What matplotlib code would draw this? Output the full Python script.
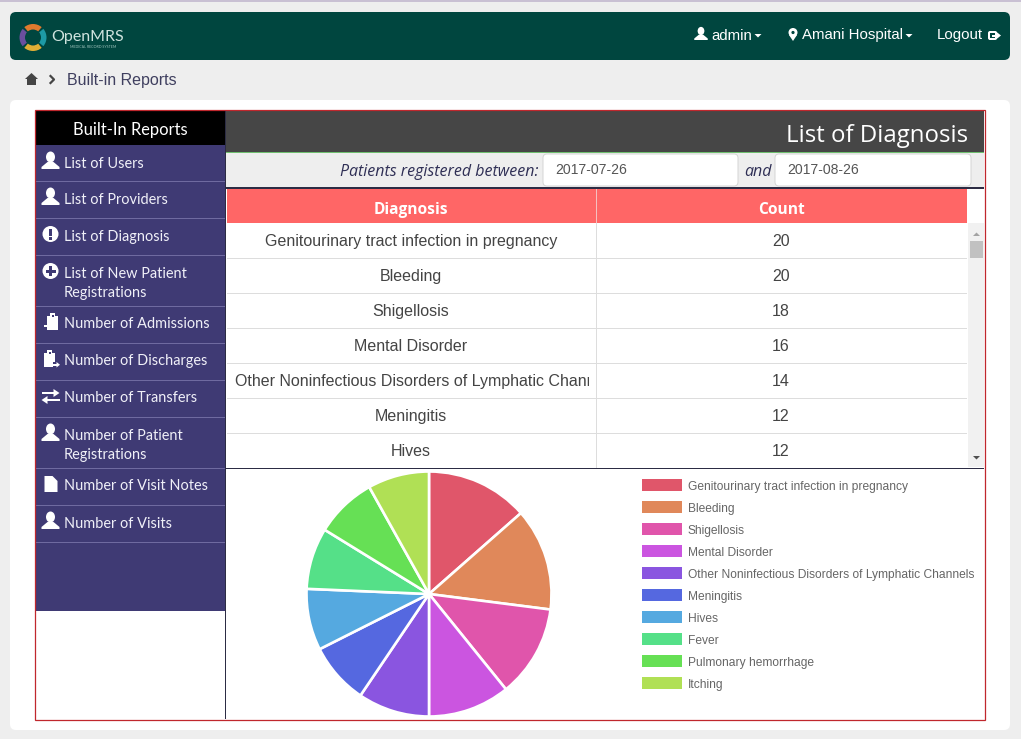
import matplotlib

matplotlib.use("Agg")
import matplotlib.pyplot as plt
from matplotlib.patches import Rectangle, FancyBboxPatch, Circle, Ellipse, Polygon, Wedge

W, H = 1021, 739

diagnoses = [
    "Genitourinary tract infection in pregnancy",
    "Bleeding",
    "Shigellosis",
    "Mental Disorder",
    "Other Noninfectious Disorders of Lymphatic Channels",
    "Meningitis",
    "Hives",
    "Fever",
    "Pulmonary hemorrhage",
    "Itching",
]
counts = [20, 20, 18, 16, 14, 12, 12, 12, 12, 12]
pie_colors = [
    "#e0566a", "#e0885a", "#e055ab", "#cb55e0", "#8a55e0",
    "#5568e0", "#55a9e0", "#55e088", "#66e055", "#b0e055",
]
visible_rows = 7

side_items = [
    ("List of Users", None, "user"),
    ("List of Providers", None, "user"),
    ("List of Diagnosis", None, "alert"),
    ("List of New Patient", "Registrations", "plus"),
    ("Number of Admissions", None, "admit"),
    ("Number of Discharges", None, "discharge"),
    ("Number of Transfers", None, "swap"),
    ("Number of Patient", "Registrations", "user"),
    ("Number of Visit Notes", None, "file"),
    ("Number of Visits", None, "user"),
]
side_tops = [146, 182, 219, 256, 307, 344, 381, 418, 469, 506]
side_seps = [181, 218, 255, 306, 343, 380, 417, 468, 505, 542]

PURPLE = "#3f3a74"
TEAL = "#00463f"
SANS = "Liberation Sans"
HEAD = "Open Sans"
SIDE = "Lato"

fig = plt.figure(figsize=(W / 100, H / 100), dpi=100, facecolor="#eeeeee")
ax = fig.add_axes([0, 0, 1, 1])
ax.set_xlim(0, W)
ax.set_ylim(H, 0)
ax.axis("off")


def px(size):
    return size * 0.72


def rect(x0, y0, x1, y1, color, z=1, **kw):
    p = Rectangle((x0, y0), x1 - x0, y1 - y0, facecolor=color, edgecolor="none", zorder=z, **kw)
    ax.add_patch(p)
    return p


def rounded(x0, y0, x1, y1, r, color, edge="none", z=1):
    p = FancyBboxPatch((x0 + r, y0 + r), x1 - x0 - 2 * r, y1 - y0 - 2 * r,
                       boxstyle=f"round,pad={r},rounding_size={r}",
                       facecolor=color, edgecolor=edge, linewidth=0.7, zorder=z)
    ax.add_patch(p)


def label(x, y, s, size, color, family=SANS, ha="left", z=6, **kw):
    # the web fonts sit a bit lower than matplotlib centres them
    dy = 2 if family == HEAD else 1
    return ax.text(x, y + dy, s, fontsize=px(size), color=color, family=family,
                   ha=ha, va="center", zorder=z, **kw)


def poly(pts, color, z=6):
    ax.add_patch(Polygon(pts, color=color, zorder=z, lw=0))


def user_icon(x, y, s=1.0, color="white"):
    ax.add_patch(Ellipse((x, y - 4 * s), 9 * s, 11 * s, color=color, zorder=6, lw=0))
    poly([(x - 3 * s, y + 1 * s), (x + 3 * s, y + 1 * s), (x + 9 * s, y + 6 * s),
          (x + 9 * s, y + 8 * s), (x - 9 * s, y + 8 * s), (x - 9 * s, y + 6 * s)], color)


def board(x, y):
    rect(x - 5.5, y - 6, x + 5.5, y + 8, "white", z=6)
    rect(x - 2.5, y - 9, x + 2.5, y - 4, "white", z=7)
    rect(x - 1, y - 7.5, x + 1, y - 5.5, PURPLE, z=8)


def side_icon(kind, x, y):
    if kind == "user":
        user_icon(x, y)
    elif kind in ("alert", "plus"):
        ax.add_patch(Circle((x, y), 8, color="white", zorder=6, lw=0))
        if kind == "alert":
            rect(x - 1.5, y - 5, x + 1.5, y + 1.5, PURPLE, z=7)
            rect(x - 1.5, y + 3, x + 1.5, y + 5.5, PURPLE, z=7)
        else:
            rect(x - 1.5, y - 5, x + 1.5, y + 5, PURPLE, z=7)
            rect(x - 5, y - 1.5, x + 5, y + 1.5, PURPLE, z=7)
    elif kind == "admit":
        board(x + 2, y)
        rect(x - 7, y + 3, x - 2, y + 4.5, "white", z=8)
        poly([(x - 3, y + 1), (x + 0.5, y + 3.75), (x - 3, y + 6.5)], "white", z=8)
    elif kind == "discharge":
        board(x - 1, y)
        rect(x + 2, y + 3, x + 7, y + 8, PURPLE, z=7)
        rect(x + 2, y + 5, x + 7, y + 6.5, "white", z=8)
        poly([(x + 6, y + 3), (x + 9.5, y + 5.75), (x + 6, y + 8.5)], "white", z=8)
    elif kind == "swap":
        rect(x - 9, y - 4, x + 4, y - 2, "white", z=6)
        poly([(x + 3, y - 7), (x + 9, y - 3), (x + 3, y + 1)], "white")
        rect(x - 4, y + 3, x + 9, y + 5, "white", z=6)
        poly([(x - 3, y), (x - 9, y + 4), (x - 3, y + 8)], "white")
    elif kind == "file":
        poly([(x - 6, y - 8), (x + 2, y - 8), (x + 7, y - 3), (x + 7, y + 8), (x - 6, y + 8)], "white")


def caret(x, y, color="white", size=4, up=False):
    d = -size if up else size
    poly([(x - size, y), (x + size, y), (x, y + d)], color)


# top strip, navbar, white panel
rect(0, 0, W, 1.5, "#c9c0d3", z=2)
rounded(10, 12, 1010, 60, 6, TEAL)
rounded(10, 100, 1010, 730, 6, "white")

# logo
for c, a0, a1 in [("#e07a2e", 50, 130), ("#1d9aa5", -40, 40), ("#e0ae35", 230, 310), ("#6a4f9e", 140, 220)]:
    ax.add_patch(Wedge((33, 37.5), 13.5, -a1, -a0, width=5.5, color=c, zorder=3, lw=0))
label(51, 36, "OpenMRS", 16, "#cfe3de", family=SIDE)
label(70, 46.5, "MEDICAL RECORD SYSTEM", 3.6, "#9fc4bd", family=SIDE)

# navbar right side
user_icon(701, 34, 0.75)
label(711, 34.5, "admin", 15, "white")
caret(758, 34, size=3.5)
ax.add_patch(Circle((793, 32.5), 4.5, color="white", zorder=6, lw=0))
ax.add_patch(Circle((793, 32.5), 1.6, color=TEAL, zorder=7, lw=0))
poly([(789, 35), (797, 35), (793, 41)], "white")
label(802, 34.5, "Amani Hospital", 15, "white")
caret(909, 34, size=3.5)
label(937, 34.5, "Logout", 15, "white")
rounded(988, 31, 997, 40, 2, "white", z=6)
rect(990, 33, 995, 38, TEAL, z=7)
rect(992, 34.5, 997, 36.5, "white", z=8)
poly([(996, 31.5), (1001, 35.5), (996, 39.5)], "white", z=8)

# breadcrumb
poly([(25, 79), (31.5, 73), (38, 79), (36, 79), (36, 85), (27, 85), (27, 79)], "#454545", z=3)
ax.plot([50.5, 54, 50.5], [76, 79.5, 83], color="#454545", lw=1.6, zorder=3)
label(67, 79, "Built-in Reports", 16, "#3f3f5f")

# sidebar
rect(35.5, 111, 225, 145, "black", z=2)
rect(35.5, 145, 225, 611, PURPLE, z=2)
label(130.5, 128.5, "Built-In Reports", 16.5, "white", family=SIDE, ha="center")
for y in side_seps:
    rect(35.5, y, 225, y + 1, "#6f6aa0", z=3)
for (line1, line2, icon), top in zip(side_items, side_tops):
    side_icon(icon, 50.5, top + 15)
    label(64, top + 16.5, line1, 14.5, "#f0f0f8", family=SIDE)
    if line2:
        label(64, top + 36.5, line2, 14.5, "#f0f0f8", family=SIDE)

# title bar and date filter
rect(226, 111, 984, 152, "#464646", z=2)
rect(226, 152, 984, 153, "#6fbf6f", z=3)
label(968, 133.5, "List of Diagnosis", 24, "white", family=HEAD, ha="right")
rect(226, 153, 984, 187, "#eeeeee", z=2)
label(538, 170.5, "Patients registered between:", 16, "#2f2f55", family=HEAD, ha="right", style="italic")
label(744, 170.5, "and", 16, "#2f2f55", family=HEAD, style="italic")
for x0, x1, date in [(543, 738, "2017-07-26"), (775, 971, "2017-08-26")]:
    rounded(x0, 154, x1, 186, 4, "white", edge="#d5d5d5", z=3)
    label(x0 + 12, 169.5, date, 14, "#555555")
rect(226, 187, 984, 188.5, "#2c2c44", z=4)

# table
rect(227, 189, 967, 223, "#ff6666", z=2)
rect(596, 189, 597, 223, "#f5c0c0", z=3)
label(411, 208, "Diagnosis", 15.5, "white", family=HEAD, ha="center", fontweight="bold")
label(781, 208, "Count", 15.5, "white", family=HEAD, ha="center", fontweight="bold")
rect(596, 223, 597, 468, "#dddddd", z=2)
cell_clip = rect(227, 223, 589, 468, "white", z=1.5)
for i in range(visible_rows):
    yc = 240 + 35 * i
    name = diagnoses[i]
    if len(name) > 45:
        t = label(235, yc + 0.4, name, 16, "#444444")
    else:
        t = label(411, yc + 0.4, name, 16, "#444444", ha="center")
    t.set_clip_on(True)
    t.set_clip_path(cell_clip)
    label(781, yc + 0.4, str(counts[i]), 16, "#444444", ha="center")
    if i < visible_rows - 1:
        rect(227, yc + 18, 967, yc + 19, "#dddddd", z=2)

# scrollbar
rect(968, 223, 984, 467, "#f1f1f1", z=2)
rect(970, 241, 983, 258, "#c1c1c1", z=3)
caret(976.5, 236, color="#a3a3a3", size=3.5, up=True)
caret(976.5, 456, color="#505050", size=3.5)
rect(226, 467.5, 984, 469, "#2c2c44", z=4)

# legend
for i, (name, color) in enumerate(zip(diagnoses, pie_colors)):
    y = 485 + 22 * i
    rect(642, y - 6, 682, y + 6, color, z=3)
    label(688, y + 0.8, name, 12, "#666666")

# outer frame and sidebar divider
ax.add_patch(Rectangle((35, 110), 949.5, 609.5, fill=False, edgecolor="#c0272d", linewidth=0.9, zorder=8))
rect(225, 111, 226, 719, "#2c2c44", z=8)

# pie
R = 122.5
pie_ax = fig.add_axes([(429 - R) / W, 1 - (594 + R) / H, 2 * R / W, 2 * R / H])
pie_ax.pie(counts, colors=pie_colors, startangle=90, counterclock=False, radius=1,
           wedgeprops=dict(edgecolor="white", linewidth=1.9))
pie_ax.set_xlim(-1, 1)
pie_ax.set_ylim(-1, 1)
pie_ax.patch.set_alpha(0)
for w in pie_ax.patches:
    w.set_clip_on(False)

fig.savefig("out.png", dpi=100, facecolor=fig.get_facecolor())
plt.close(fig)
